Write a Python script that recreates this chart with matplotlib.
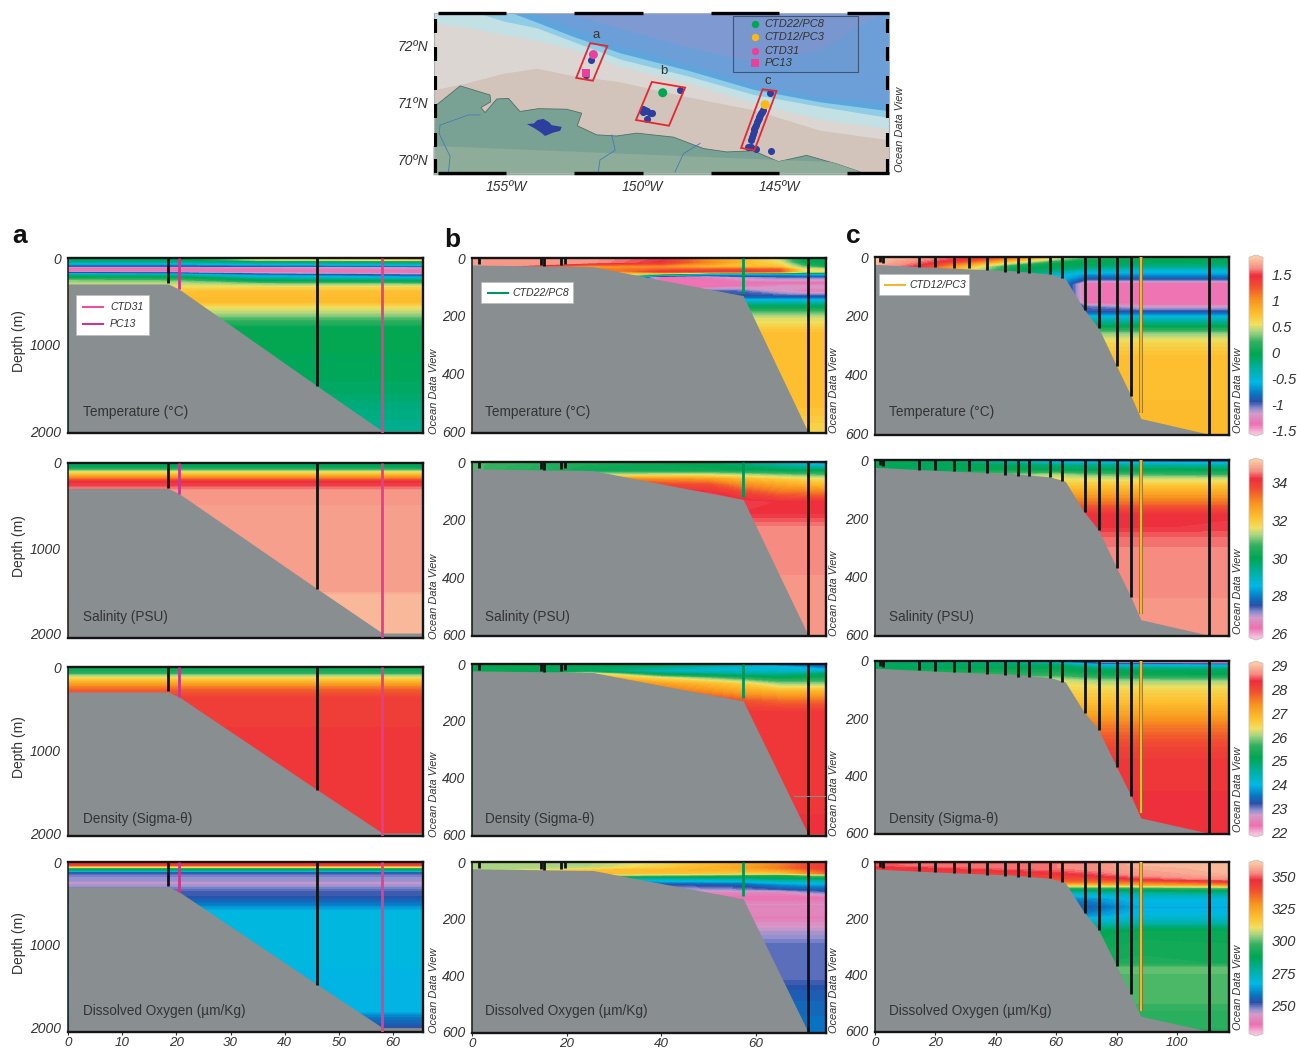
"""
Arctic shelf transects - map and T/S/density/oxygen sections
"""
import numpy as np
import matplotlib
matplotlib.use('Agg')
import matplotlib.pyplot as plt
from matplotlib import cm
from matplotlib.colors import LinearSegmentedColormap, Normalize
from matplotlib.patches import Polygon, Rectangle

plt.rcParams['font.family'] = ['Liberation Sans', 'DejaVu Sans']

W, H = 1297, 1050

# ---- colour scale -----
odv_stops = [0, .05, .11, .14, .18, .22, .29, .37, .45, .52, .58, .62, .68, .76, .84, .90, .94, 1]
odv_colors = ['#f6c3dd', '#ee6fb0', '#d59ac8', '#8f8fd0', '#2b50a8', '#0a72c0', '#00b8e6', '#00b0a0',
              '#00a651', '#30b060', '#a8d583', '#f0e060', '#fdc02f', '#f7941e', '#f04e30', '#ee2d3d',
              '#f58a80', '#fcc8a5']
odv = LinearSegmentedColormap.from_list('odv', list(zip(odv_stops, odv_colors)), N=256)
odv = odv.with_extremes(under=odv_colors[0], over=odv_colors[-1])

temp_range = (-1.55, 1.83)
sal_range = (25.8, 35.17)
dens_range = (21.9, 29.1)
oxy_range = (228, 361)
temp_ticks = [1.5, 1, 0.5, 0, -0.5, -1, -1.5]
temp_ticklabels = ['1.5', '1', '0.5', '0', '-0.5', '-1', '-1.5']
sal_ticks = [34, 32, 30, 28, 26]
dens_ticks = [29, 28, 27, 26, 25, 24, 23, 22]
oxy_ticks = [350, 325, 300, 275, 250]

titles = ['Temperature (°C)', 'Salinity (PSU)', 'Density (Sigma-θ)', 'Dissolved Oxygen (µm/Kg)']

# ---- bottom profiles -----
a_floor_x = [0, 18.5, 20.5, 46, 58, 65.6]
a_floor_z = [300, 300, 360, 1480, 2000, 2000]
b_floor_x = [0, 25.6, 40, 57.3, 71, 75]
b_floor_z = [24, 30, 76, 130, 600, 600]
c_floor_x = [0, 15, 30, 45, 58, 63, 69, 74, 80, 84.7, 88, 110, 118]
c_floor_z = [25, 33, 40, 46, 58, 73, 175, 240, 370, 470, 548, 600, 600]

# ---- stations (distance, deepest sample) -----
a_black_x = [18.5, 46]
a_black_z = [290, 1480]
a_pc_x, a_pc_z = 20.5, 360
a_ctd_x, a_ctd_z = 58, 2060
b_black_x = [1.5, 14.5, 15.2, 18.8, 19.7, 71]
b_black_z = [22, 25, 28, 25, 22, 604]
b_green_x, b_green_z = 57.2, 120
c_black_x = [1.5, 2.7, 14.5, 20, 26, 31, 37, 43, 47.5, 51, 58, 62, 69.5, 74, 80, 84.8, 110.5]
c_black_z = [18, 22, 33, 35, 38, 38, 45, 50, 55, 55, 58, 72, 180, 240, 370, 470, 604]
c_yellow_x, c_yellow_z = 88, 530

# ---- section a -----
a_x = [0, 65.6]
a_temp_x = [0, 20, 35, 65.6]
a_temp_z = [0, 20, 40, 60, 90, 105, 130, 160, 180, 200, 225, 265, 300, 340, 400, 500, 570, 660, 800, 1100, 1500, 1800, 2060]
a_temp = [[-.05, -.05, .1, .75], [-.1, -.1, .5, .75], [-.2, -.2, -.1, -.05], [-.5, -.5, -.4, -.3],
          [-.9, -.9, -.8, -.7], [-1.3, -1.3, -1.25, -1.15], [-1.38, -1.38, -1.35, -1.3], [-1.33, -1.33, -1.38, -1.38],
          [-.7, -.8, -1.1, -1.3], [-.2, -.3, -.7, -.95], [-.03, -.03, -.4, -.6], [.35, .3, -.03, -.1],
          [.45, .45, .35, .3], [.55, .55, .6, .6], [.75, .75, .75, .75], [.78, .78, .78, .78], [.55, .55, .55, .55],
          [.35, .35, .35, .35], [0, 0, 0, 0], [-.03, -.03, -.03, -.03], [-.08, -.08, -.08, -.08],
          [-.2, -.2, -.2, -.2], [-.28, -.28, -.28, -.28]]
a_sal_z = [0, 30, 60, 100, 130, 170, 210, 260, 330, 500, 1500, 1550, 2060]
a_sal = [29.5, 30, 30.3, 31.5, 32.2, 33, 34.1, 34.3, 34.7, 34.75, 34.78, 35, 35]
a_dens_z = [0, 60, 130, 190, 270, 390, 2060]
a_dens = [25.2, 25.4, 26.5, 27.1, 27.8, 28.2, 28.25]
a_oxy_z = [0, 10, 40, 50, 65, 80, 110, 130, 170, 190, 230, 250, 300, 340, 410, 490, 610, 1800, 1880, 2000, 2060]
a_oxy = [345, 345, 345, 330, 312, 295, 275, 252, 248, 246, 246, 243, 247, 250, 252, 257, 268, 266, 258, 252, 252]

# ---- section b -----
b_temp_x = [0, 25, 40, 50, 57, 65, 70, 75]
b_temp_z = [0, 15, 30, 40, 47, 55, 65, 85, 100, 115, 135, 148, 165, 190, 210, 260, 500, 606]
b_temp = [[1.68, 1.66, 1.5, 1.0, .8, .45, -.03, -.03], [1.68, 1.66, 1.45, 1.05, .8, .55, -.03, -.03],
          [1.68, .9, 1.0, .8, .75, .7, .3, .05], [1.68, 1.1, 1.2, 1.25, 1.3, 1.25, .55, .5],
          [1.68, .8, 1.45, 1.45, 1.45, 1.3, .55, .55], [1.68, .8, .3, -.5, -.55, -.6, -.5, -.5],
          [1.68, .8, -1.38, -1.3, -1.1, -1.0, -1.0, -1.0], [1.68, .8, -1.38, -1.38, -1.38, -1.38, -1.38, -1.38],
          [1.68, .8, -1.38, -1.35, -1.3, -1.2, -1.2, -1.2], [1.68, .8, -1.38, -.95, -1.0, -1.2, -1.3, -1.3],
          [1.68, .8, -.9, -.9, -.9, -.9, -.9, -.9], [1.68, .8, -.5, -.5, -.5, -.5, -.5, -.5],
          [1.68, .8, -.1, -.1, -.1, -.1, -.1, -.1], [1.68, .8, .3, .3, .3, .3, .3, .3],
          [1.68, .8, .5, .5, .5, .5, .5, .5], [1.68, .8, .75, .75, .75, .75, .75, .75],
          [1.68, .8, .75, .75, .75, .75, .75, .75], [1.68, .8, .6, .6, .6, .6, .6, .6]]
b_sal_x = [0, 25, 50, 57, 65, 75]
b_sal_z = [0, 10, 30, 45, 60, 80, 110, 140, 180, 230, 606]
b_sal = [[30.8, 30.5, 29.8, 29.5, 28.8, 27.5], [30.8, 30.3, 30, 29.7, 29.2, 28.5], [30.8, 30.2, 30.2, 30.1, 30, 30],
         [30.8, 31.4, 31.5, 31.3, 31, 30.8], [30.8, 33.2, 32.8, 32.3, 32, 31.6], [30.8, 33.9, 33.7, 33, 32.6, 32.2],
         [30.8, 34.3, 34.3, 33.9, 33.4, 33.3], [30.8, 34.3, 34.3, 34.3, 34.2, 34.2], [30.8, 34.3, 34.3, 34.2, 34.2, 34.2],
         [30.8, 34.6, 34.6, 34.6, 34.6, 34.6], [30.8, 34.7, 34.7, 34.7, 34.7, 34.7]]
b_dens_x = [0, 25, 40, 57, 65, 75]
b_dens_z = [0, 10, 25, 35, 50, 70, 100, 130, 170, 606]
b_dens = [[25.2, 25.2, 25.1, 24.6, 23.2, 22.5], [25.2, 25.1, 24.8, 24.2, 24.0, 23.4], [25.2, 25.0, 24.2, 24.2, 24.2, 24.2],
          [25.2, 26.5, 25.0, 24.6, 24.6, 25.0], [25.2, 27.2, 26.4, 25.5, 25.2, 25.3], [25.2, 27.5, 27.2, 26.6, 26.0, 26.0],
          [25.2, 27.9, 27.8, 27.2, 27.0, 27.0], [25.2, 28.2, 28.2, 27.9, 27.7, 27.7], [25.2, 28.25, 28.25, 28.25, 28.25, 28.25],
          [25.2, 28.3, 28.3, 28.3, 28.3, 28.3]]
b_oxy_x = [0, 25, 40, 57, 65, 72, 75]
b_oxy_z = [0, 20, 30, 40, 47, 55, 65, 78, 95, 105, 125, 150, 200, 250, 300, 400, 460, 606]
b_oxy = [[305, 305, 312, 322, 330, 342, 345], [305, 306, 315, 325, 333, 342, 345], [305, 318, 320, 322, 325, 335, 340],
         [305, 320, 318, 315, 315, 330, 335], [305, 305, 300, 295, 290, 300, 300], [305, 280, 280, 282, 290, 290, 290],
         [305, 265, 268, 270, 275, 275, 275], [305, 252, 252, 255, 262, 265, 265], [305, 244, 244, 248, 252, 254, 254],
         [305, 240, 240, 240, 240, 248, 250], [305, 235, 235, 235, 235, 235, 235], [305, 240, 240, 240, 240, 240, 240],
         [305, 238, 238, 238, 238, 238, 238], [305, 245, 245, 245, 245, 245, 245], [305, 250, 250, 250, 250, 250, 250],
         [305, 249, 249, 249, 249, 249, 249], [305, 254, 254, 254, 254, 254, 254], [305, 258, 258, 258, 258, 258, 258]]

# ---- section c -----
c_temp_x = [0, 15, 30, 45, 60, 70, 88, 118]
c_temp_z = [0, 10, 20, 30, 45, 60, 75, 90, 130, 155, 170, 185, 205, 235, 260, 290, 340, 606]
c_temp = [[1.82, 1.72, 1.5, 1.2, .6, .3, .1, 0], [1.8, 1.62, 1.4, .9, .3, -.03, -.03, -.03],
          [1.78, 1.55, 1.1, .5, -.03, -.03, -.1, -.1], [1.75, 1.45, .8, .1, -.03, -.1, -.2, -.2],
          [1.7, 1.3, .6, -.03, -.2, -.4, -.5, -.5], [1.7, 1.3, .5, -.1, -.5, -.7, -.7, -.7],
          [1.7, 1.3, .5, -.1, -.5, -.95, -.95, -.95], [1.7, 1.3, .5, -.1, -.5, -1.38, -1.38, -1.38],
          [1.7, 1.3, .5, -.1, -.5, -1.38, -1.38, -1.38], [1.7, 1.3, .5, -.1, -.5, -1.35, -1.38, -1.38],
          [1.7, 1.3, .5, -.1, -.5, -1.0, -1.2, -1.2], [1.7, 1.3, .5, -.1, -.5, -.95, -.95, -.95],
          [1.7, 1.3, .5, -.1, -.5, -.5, -.5, -.5], [1.7, 1.3, .5, -.1, -.5, -.05, -.05, -.05],
          [1.7, 1.3, .5, -.1, -.5, .35, .35, .35], [1.7, 1.3, .5, -.1, -.5, .6, .6, .6],
          [1.7, 1.3, .5, -.1, -.5, .75, .75, .75], [1.7, 1.3, .5, -.1, -.5, .78, .78, .78]]
c_sal_x = [0, 20, 40, 60, 70, 88, 118]
c_sal_z = [0, 8, 18, 35, 50, 65, 90, 130, 165, 190, 230, 270, 320, 500, 606]
c_sal = [[29.8, 29.8, 29.3, 27.8, 27.3, 26.5, 26.5], [29.9, 29.9, 29.3, 28.5, 28.5, 28.3, 28.2],
         [30, 30, 29.9, 29.6, 29.5, 29.3, 29.2], [30, 30, 30.1, 30, 30, 30, 30],
         [30.4, 30.5, 30.9, 31.2, 30.9, 30.7, 30.6], [31, 31.5, 31.6, 31.6, 31.5, 31.4, 31.4],
         [31, 31.5, 32.1, 32.1, 32.1, 32.1, 32.1], [31, 31.5, 32.9, 32.9, 32.9, 32.9, 32.9],
         [31, 31.5, 33.7, 33.7, 33.7, 33.7, 33.7], [31, 31.5, 34.2, 34.2, 34.2, 34.2, 34.2],
         [31, 31.5, 34.2, 34.2, 34.2, 34.2, 34.25], [31, 31.5, 34.45, 34.45, 34.45, 34.45, 34.45],
         [31, 31.5, 34.6, 34.6, 34.6, 34.6, 34.6], [31, 31.5, 34.65, 34.65, 34.65, 34.65, 34.65],
         [31, 31.5, 34.75, 34.75, 34.75, 34.75, 34.75]]
c_dens_x = [0, 30, 60, 75, 118]
c_dens_z = [0, 8, 15, 30, 50, 70, 100, 130, 180, 230, 290, 350, 606]
c_dens = [[24.8, 24.6, 23.8, 22.5, 22.3], [25, 24.9, 24.4, 23, 22.5], [25, 25, 25, 24.1, 24], [25.2, 25.2, 25.2, 25, 25],
          [25.6, 25.6, 25.6, 25.3, 25.2], [26.1, 26.2, 26.3, 26, 26], [26.1, 26.2, 26.5, 26.5, 26.5],
          [26.1, 26.2, 26.7, 26.7, 26.7], [26.1, 26.2, 27.1, 27.1, 27.1], [26.1, 26.2, 27.6, 27.6, 27.6],
          [26.1, 26.2, 28, 28, 28], [26.1, 26.2, 28.25, 28.25, 28.25], [26.1, 26.2, 28.35, 28.35, 28.35]]
c_oxy_x = [0, 30, 60, 72, 88, 118]
c_oxy_z = [0, 10, 20, 30, 45, 60, 70, 80, 92, 108, 130, 160, 190, 215, 250, 360, 375, 520, 530, 606]
c_oxy = [[345, 345, 345, 345, 358, 358], [350, 352, 352, 353, 358, 359], [345, 350, 352, 353, 357, 359],
         [345, 345, 350, 352, 356, 359], [345, 343, 345, 348, 354, 358], [345, 340, 340, 340, 348, 354],
         [345, 340, 335, 335, 335, 343], [345, 340, 318, 320, 325, 330], [345, 340, 295, 295, 295, 300],
         [345, 340, 272, 275, 278, 280], [345, 340, 258, 262, 268, 268], [345, 340, 252, 254, 265, 265],
         [345, 340, 256, 262, 268, 268], [345, 340, 270, 272, 275, 275], [345, 340, 285, 288, 290, 290],
         [345, 340, 292, 292, 293, 292], [345, 340, 300, 300, 300, 300], [345, 340, 298, 298, 298, 298],
         [345, 340, 296, 296, 296, 296], [345, 340, 295, 295, 295, 295]]

# ---- map -----
iso_lon = [157.66, 156.56, 155.10, 153.88, 152.66, 150.82, 148.38, 145.94, 143.50, 140.93]
iso_grey = [72.42, 72.36, 72.22, 72.12, 71.98, 71.66, 71.38, 71.02, 70.74, 70.56]
iso_tan = [71.25, 71.36, 71.54, 71.63, 71.51, 71.39, 71.13, 70.90, 70.54, 70.37]
iso_pale = [72.80, 72.68, 72.46, 72.34, 72.12, 71.79, 71.50, 71.17, 70.96, 70.76]
iso_light = [72.90, 72.80, 72.66, 72.44, 72.21, 71.90, 71.60, 71.26, 71.04, 70.88]
iso_blue = [72.90, 72.85, 72.75, 72.58, 72.34, 72.02, 71.70, 71.36, 71.12, 71.02]
iso_violet = [72.90, 72.90, 72.85, 72.70, 72.59, 72.33, 72.01, 71.74, 71.95, 72.70]

coast_lon = [157.66, 157.56, 156.68, 155.59, 155.56, 155.92, 155.77, 155.34, 154.91, 154.49, 153.82, 152.78, 152.23,
             152.39, 151.68, 150.95, 150.21, 148.87, 147.77, 146.92, 145.94, 145.02, 143.99, 142.89, 142.03, 142.03, 157.66]
coast_lat = [70.92, 70.98, 71.32, 71.16, 71.04, 70.94, 70.85, 71.09, 71.10, 70.87, 70.92, 70.91, 70.84,
             70.62, 70.46, 70.44, 70.49, 70.42, 70.22, 70.16, 70.18, 69.99, 70.10, 69.95, 69.81, 69.75, 69.75]
lake_lon = [154.24, 153.98, 153.85, 153.63, 153.42, 153.33, 152.96, 153.02, 153.27, 153.57, 153.72, 153.94]
lake_lat = [70.65, 70.66, 70.72, 70.74, 70.68, 70.63, 70.60, 70.53, 70.50, 70.44, 70.50, 70.57]
river1_lon = [157.42, 156.38, 155.95]
river1_lat = [70.63, 70.81, 70.81]
river1b_lon = [157.42, 157.45, 157.05, 157.11]
river1b_lat = [70.63, 70.48, 70.08, 69.81]
river2_lon = [151.13, 151.0, 151.56, 151.62]
river2_lat = [70.46, 70.19, 70.02, 69.81]
river3_lon = [147.89, 148.5, 148.81]
river3_lat = [70.31, 70.13, 69.81]

box_a_lon = [151.92, 151.29, 151.82, 152.43]
box_a_lat = [72.07, 72.02, 71.41, 71.46]
box_b_lon = [149.66, 148.44, 149.03, 150.24]
box_b_lat = [71.39, 71.29, 70.62, 70.72]
box_c_lon = [145.6, 145.09, 145.9, 146.39]
box_c_lat = [71.26, 71.23, 70.19, 70.23]

dots_lon = [151.89, 152.08, 148.64, 149.97, 149.85, 149.72, 149.64, 150.0, 149.92, 149.83, 145.33, 145.60, 145.63, 145.66,
            145.69, 145.72, 145.75, 145.78, 145.81, 145.84, 145.87, 145.9, 145.93, 145.96, 146.0, 146.04, 146.12, 146.02,
            145.84, 145.29]
dots_lat = [71.77, 71.51, 71.25, 70.91, 70.88, 70.85, 70.84, 70.87, 70.90, 70.74, 71.19, 70.89, 70.86, 70.84,
            70.81, 70.78, 70.75, 70.72, 70.68, 70.64, 70.60, 70.56, 70.52, 70.48, 70.42, 70.37, 70.25, 70.24,
            70.22, 70.18]

map_names = ['CTD22/PC8', 'CTD12/PC3', 'CTD31', 'PC13']
map_name_lat = [72.40, 72.17, 71.94, 71.72]
map_name_color = ['#00a651', '#fdb913', '#ec3f9c', '#ec3f9c']
map_point_lon = [149.26, 145.51, 151.80, 152.08]
map_point_lat = [71.20, 70.99, 71.87, 71.54]

lon_ticks = [155, 150, 145]
lat_ticks = [72, 71, 70]
lon_black_start = [157.5, 152.5, 147.5, 142.5]
lat_black_start = [69.79, 70.25, 70.75, 71.25, 71.75, 72.25]


def place(left, top, right, bottom):
    return fig.add_axes([left / W, 1 - bottom / H, (right - left) / W, (bottom - top) / H])


def say(x, y, s, **kw):
    kw.setdefault('color', '#333333')
    kw.setdefault('va', 'center')
    fig.text(x / W, 1 - y / H, s, **kw)


def draw_section(ax, x, z, vals, rng, floor_x, floor_z, xmax, ymax):
    vals = np.array(vals, dtype=float)
    if vals.ndim == 1:
        vals = np.column_stack([vals, vals])
    levels = np.linspace(rng[0], rng[1], 90)
    ax.contourf(x, z, vals, levels=levels, cmap=odv, norm=Normalize(*rng), extend='both', antialiased=False)
    ax.fill_between(floor_x, floor_z, ymax * 1.1, color='#898e91', lw=0, zorder=2)
    ax.set_xlim(0, xmax)
    ax.set_ylim(ymax, 0)
    for side in ax.spines:
        ax.spines[side].set_linewidth(1.7)
        ax.spines[side].set_color('#151515')
    ax.spines['left'].set_linewidth(1.1)
    ax.tick_params(length=0, labelsize=10, colors='#333333', pad=5)
    ax.set_xticks([])
    for lab in ax.get_yticklabels():
        lab.set_fontstyle('italic')


def draw_sticks(ax, xs, zs, color='#111111'):
    ax.vlines(xs, 0, zs, color=color, lw=2, zorder=3)


fig = plt.figure(figsize=(W / 100, H / 100), dpi=100)

# ---- the map at the top -----
mp = place(434, 13, 889, 173)
mp.set_xlim(157.64, 140.97)
mp.set_ylim(69.79, 72.6)
mp.set_facecolor('#d2c3bb')
top = 73
mp.fill_between(iso_lon, iso_tan, top, color='#dbd6d2', lw=0)
mp.fill_between(iso_lon, iso_grey, top, color='#c3e0e5', lw=0)
mp.fill_between(iso_lon, iso_pale, top, color='#8fcde6', lw=0)
mp.fill_between(iso_lon, iso_light, top, color='#5da5dc', lw=0)
mp.fill_between(iso_lon, iso_blue, top, color='#6c9fd8', lw=0)
mp.fill_between(iso_lon, iso_violet, top, color='#7f9ad2', lw=0)
land = Polygon(list(zip(coast_lon, coast_lat)), closed=True, fc='#79a294', ec='#4f6f68', lw=.6)
mp.add_patch(land)
low = mp.fill_between([158, 141], 69.5, [70.28, 69.95], color='#8dad9a', lw=0)
low.set_clip_path(land)
mp.fill(lake_lon, lake_lat, color='#2c3f9e', lw=0)
for rx, ry in [(river1_lon, river1_lat), (river1b_lon, river1b_lat), (river2_lon, river2_lat), (river3_lon, river3_lat)]:
    mp.plot(rx, ry, color='#4a78b8', lw=.6)
mp.scatter(dots_lon, dots_lat, s=26, color='#2c3f9e', lw=0, zorder=4)
for bx, by in [(box_a_lon, box_a_lat), (box_b_lon, box_b_lat), (box_c_lon, box_c_lat)]:
    mp.add_patch(Polygon(list(zip(bx, by)), closed=True, fc='none', ec='#e8262f', lw=1.3, zorder=5))
mp.scatter(map_point_lon[:3], map_point_lat[:3], s=42, c=map_name_color[:3], lw=0, zorder=6)
mp.scatter(map_point_lon[3:], map_point_lat[3:], s=38, c=map_name_color[3:], marker='s', lw=0, zorder=6)
for lon0, name, lat0, col in zip([145.88] * 4, map_names, map_name_lat, map_name_color):
    mp.scatter([lon0], [lat0], s=28, c=col, marker='s' if name == 'PC13' else 'o', lw=0, zorder=6)
    mp.text(145.52, lat0, name, fontsize=8, style='italic', color='#333333', va='center', zorder=6)
mp.add_patch(Rectangle((146.67, 71.56), -4.58, 0.98, fc='#6f8fc8', alpha=.3, ec='none', zorder=3))
mp.add_patch(Rectangle((146.67, 71.56), -4.58, 0.98, fc='none', ec='#3d5578', lw=.8, zorder=5))
mp.text(151.70, 72.21, 'a', fontsize=9.5, color='#333333', ha='center', va='center', zorder=6)
mp.text(149.21, 71.58, 'b', fontsize=9.5, color='#333333', ha='center', va='center', zorder=6)
mp.text(145.40, 71.40, 'c', fontsize=9.5, color='#333333', ha='center', va='center', zorder=6)
mp.set_xticks([])
mp.set_yticks([])
for side in mp.spines:
    mp.spines[side].set_color('#b0b0b0')
    mp.spines[side].set_linewidth(.8)
for start in lon_black_start:
    end = max(start - 2.5, 140.97)
    mp.plot([start, end], [72.6, 72.6], color='k', lw=2.4, solid_capstyle='butt', clip_on=False, zorder=7)
    mp.plot([start, end], [69.79, 69.79], color='k', lw=2.4, solid_capstyle='butt', clip_on=False, zorder=7)
for lat0 in lat_black_start:
    for lon0 in [157.60, 141.01]:
        mp.plot([lon0, lon0], [lat0, lat0 + .25], color='k', lw=3, solid_capstyle='butt', zorder=7)
for lon0 in lon_ticks:
    say(506 + (155 - lon0) * 27.3, 187, f'{lon0}ºW', fontsize=10, style='italic', ha='center')
for lat0 in lat_ticks:
    say(428, 47 + (72 - lat0) * 57, f'{lat0}ºN', fontsize=10, style='italic', ha='right')
say(900, 172, 'Ocean Data View', fontsize=7.9, style='italic', rotation=90, ha='center', va='bottom')

# ---- section panels -----
col_a_rows = [(258, 433, 2023), (463, 638, 2058), (667, 836, 2036), (862, 1032, 2053)]
col_b_rows = [(258, 433, 604), (462, 636, 604), (664, 836, 607), (862, 1033, 604)]
col_c_rows = [(257, 435, 604), (460, 636, 604), (661, 834, 604), (862, 1032, 604)]

a_data = [(a_temp_x, a_temp_z, a_temp, temp_range), (a_x, a_sal_z, a_sal, sal_range),
          (a_x, a_dens_z, a_dens, dens_range), (a_x, a_oxy_z, a_oxy, oxy_range)]
b_data = [(b_temp_x, b_temp_z, b_temp, temp_range), (b_sal_x, b_sal_z, b_sal, sal_range),
          (b_dens_x, b_dens_z, b_dens, dens_range), (b_oxy_x, b_oxy_z, b_oxy, oxy_range)]
c_data = [(c_temp_x, c_temp_z, c_temp, temp_range), (c_sal_x, c_sal_z, c_sal, sal_range),
          (c_dens_x, c_dens_z, c_dens, dens_range), (c_oxy_x, c_oxy_z, c_oxy, oxy_range)]
title_y = [412, 617, 819, 1011]

for i in range(4):
    # column a
    t, b, ymax = col_a_rows[i]
    ax = place(68, t, 423, b)
    x, z, v, rng = a_data[i]
    draw_section(ax, x, z, v, rng, a_floor_x, a_floor_z, 65.5, ymax)
    ax.set_yticks([0, 1000, 2000])
    ax.set_yticklabels(['0', '1000', '2000'], style='italic')
    draw_sticks(ax, a_black_x, a_black_z)
    ax.vlines(a_pc_x, 0, a_pc_z, color='#c8388c', lw=2, zorder=3)
    ax.vlines(a_ctd_x, 0, a_ctd_z, color='#e0408f', lw=2, zorder=3)
    say(83, title_y[i], titles[i], fontsize=9.8)
    say(19, (t + b) / 2 - 4, 'Depth (m)', fontsize=10, rotation=90, ha='center')
    say(434, b + 1, 'Ocean Data View', fontsize=7.9, style='italic', rotation=90, ha='center', va='bottom')
    if i == 3:
        ax.set_xticks([0, 10, 20, 30, 40, 50, 60])
        ax.tick_params(axis='x', length=2, labelsize=9.6, pad=1.5)
        ax.set_xticklabels(['0', '10', '20', '30', '40', '50', '60'], style='italic')

    # column b
    t, b, ymax = col_b_rows[i]
    ax = place(472, t, 826, b)
    x, z, v, rng = b_data[i]
    draw_section(ax, x, z, v, rng, b_floor_x, b_floor_z, 74.8, ymax)
    ax.set_yticks([0, 200, 400, 600])
    ax.set_yticklabels(['0', '200', '400', '600'], style='italic')
    draw_sticks(ax, b_black_x, b_black_z)
    ax.vlines(b_green_x, 0, b_green_z, color='#00955a', lw=2, zorder=3)
    if i == 2:
        ax.plot([68, 74.8], [465, 465], color='#8a8a8a', lw=.8, zorder=3)
    say(485, title_y[i], titles[i], fontsize=9.8)
    say(834, b, 'Ocean Data View', fontsize=7.9, style='italic', rotation=90, ha='center', va='bottom')
    if i == 3:
        ax.set_xticks([0, 20, 40, 60])
        ax.tick_params(axis='x', length=2, labelsize=9.6, pad=1.5)
        ax.set_xticklabels(['0', '20', '40', '60'], style='italic')

    # column c
    t, b, ymax = col_c_rows[i]
    ax = place(875, t, 1229, b)
    x, z, v, rng = c_data[i]
    draw_section(ax, x, z, v, rng, c_floor_x, c_floor_z, 117.2, ymax)
    ax.set_yticks([0, 200, 400, 600])
    ax.set_yticklabels(['0', '200', '400', '600'], style='italic')
    draw_sticks(ax, c_black_x, c_black_z)
    ax.vlines(c_yellow_x, 0, c_yellow_z, color='#8a6a20', lw=2.6, zorder=3)
    ax.vlines(c_yellow_x, 0, c_yellow_z, color='#f2b632', lw=1.5, zorder=3)
    say(889, title_y[i], titles[i], fontsize=9.8)
    say(1238, b - 2, 'Ocean Data View', fontsize=7.9, style='italic', rotation=90, ha='center', va='bottom')
    if i == 3:
        ax.set_xticks([0, 20, 40, 60, 80, 100])
        ax.tick_params(axis='x', length=2, labelsize=9.6, pad=1.5)
        ax.set_xticklabels(['0', '20', '40', '60', '80', '100'], style='italic')

# ---- colour bars -----
bars = [(temp_range, temp_ticks, temp_ticklabels, 255, 436), (sal_range, sal_ticks, None, 458, 640),
        (dens_range, dens_ticks, None, 661, 837), (oxy_range, oxy_ticks, None, 860, 1036)]
for rng, ticks, labels, t, b in bars:
    cax = place(1249, t, 1263, b)
    sm = cm.ScalarMappable(norm=Normalize(*rng), cmap=odv)
    cb = fig.colorbar(sm, cax=cax, extend='both', extendfrac=.015)
    cb.set_ticks(ticks)
    if labels:
        cb.set_ticklabels(labels)
    cb.outline.set_edgecolor('#c8c8c8')
    cb.outline.set_linewidth(.6)
    cax.tick_params(length=0, labelsize=10.5, colors='#333333', pad=6)
    for lab in cax.get_yticklabels():
        lab.set_fontstyle('italic')

# ---- legends on the panels -----
def legend_box(left, top, right, bottom, line_x0, line_x1, text_x, rows):
    fig.add_artist(Rectangle((left / W, 1 - bottom / H), (right - left) / W, (bottom - top) / H,
                             transform=fig.transFigure, fc='white', ec='#bbbbbb', lw=.5, zorder=8))
    for y, col, name in rows:
        fig.add_artist(plt.Line2D([line_x0 / W, line_x1 / W], [1 - y / H, 1 - y / H], color=col, lw=1.5, zorder=9))
        fig.text(text_x / W, 1 - y / H, name, fontsize=7.6, style='italic', color='#333333', va='center', zorder=9)


legend_box(76, 295, 149, 335, 83, 103, 110, [(307, '#ec4f9e', 'CTD31'), (324, '#c8388c', 'PC13')])
legend_box(481, 282, 573, 303, 488, 508, 512, [(293, '#00955a', 'CTD22/PC8')])
legend_box(879, 274, 969, 295, 885, 905, 909, [(285, '#f2b632', 'CTD12/PC3')])

say(20, 236, 'a', fontsize=19, fontweight='bold', color='#111111', ha='center')
say(452, 240, 'b', fontsize=19, fontweight='bold', color='#111111', ha='center')
say(853, 236, 'c', fontsize=19, fontweight='bold', color='#111111', ha='center')

fig.savefig('out.png', dpi=100)
